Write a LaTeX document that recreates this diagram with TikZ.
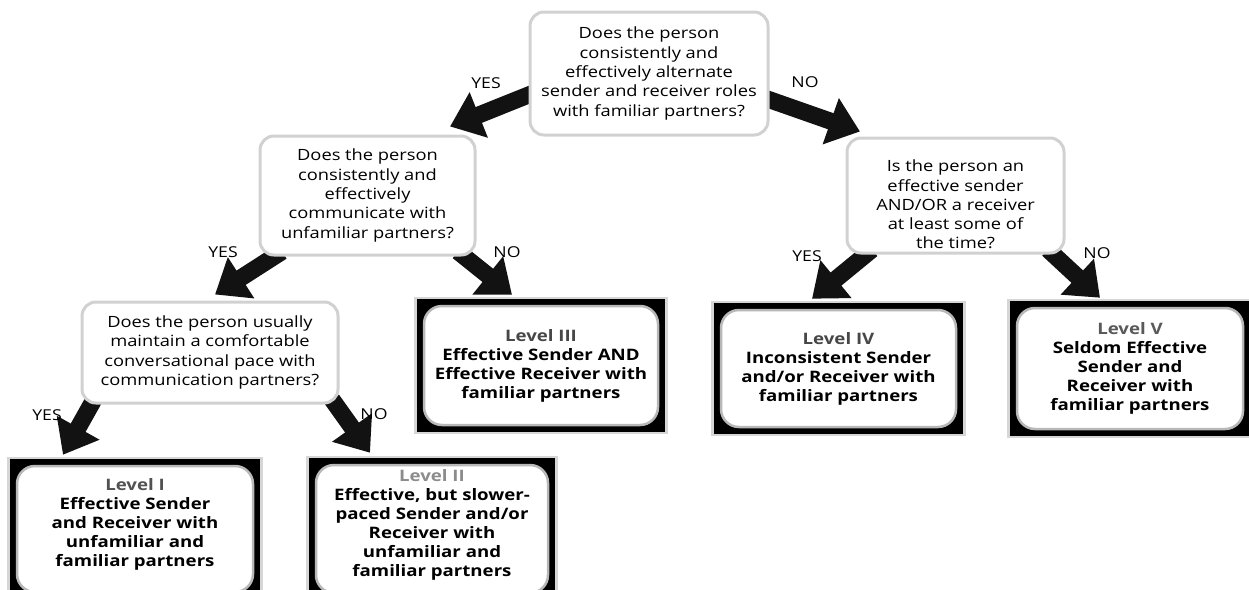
\documentclass[tikz,border=0pt]{standalone}
\usepackage{fontspec}
\setmainfont{Open Sans}[FakeStretch=1.18]
\usetikzlibrary{arrows.meta,backgrounds}
\definecolor{qborder}{gray}{0.82}
\definecolor{fgray}{gray}{0.84}
\definecolor{iedge}{gray}{0.72}
\newcommand{\lvframe}[1]{%
  \fill[fgray] ([shift={(-9,-8)}]#1.north west) rectangle ([shift={(9,8)}]#1.south east);
  \fill[black] ([shift={(-5.5,-5.5)}]#1.north west) rectangle ([shift={(5.5,5.5)}]#1.south east);
}
\begin{document}
\begin{tikzpicture}[x=1pt,y=-1pt,
  qbox/.style={draw=qborder, line width=3pt, fill=white, rounded corners=14pt, align=center,
    font=\fontsize{15.5}{19.3}\selectfont, inner sep=0pt},
  lvbox/.style={draw=iedge, line width=2.5pt, fill=white, rounded corners=18pt, align=center,
    font=\bfseries\fontsize{15.8}{19}\selectfont, inner sep=0pt},
  yn/.style={font=\fontsize{15}{16}\selectfont, inner sep=0pt},
  bigarrow/.style={line width=17pt, draw=black!93, -{Triangle[length=31pt,width=47pt]}},
]
\clip (0,0) rectangle (1249,589);

% question boxes
\node[qbox, minimum width=238pt, minimum height=123pt] (q1) at (649,73.5)
  {Does the person\\consistently and\\effectively alternate\\sender and receiver roles\\with familiar partners?};
\node[qbox, minimum width=215pt, minimum height=119pt] (q2) at (367.5,195.5)
  {Does the person\\consistently and\\effectively\\communicate with\\unfamiliar partners?};
\node[qbox, minimum width=256pt, minimum height=101pt] (q3) at (210,352.5)
  {Does the person usually\\maintain a comfortable\\conversational pace with\\communication partners?};
\node[qbox, minimum width=217pt, minimum height=115pt] (q4) at (955.5,195.5)
  {\rule{0pt}{30pt}Is the person an\\effective sender\\AND/OR a receiver\\at least some of\\the time?};

% level boxes
\node[lvbox, minimum width=236pt, minimum height=126pt] (l1) at (135,529)
  {\textcolor{black!68}{Level I}\\Effective Sender\\and Receiver with\\unfamiliar and\\familiar partners\rule[-14pt]{0pt}{0pt}};
\node[lvbox, minimum width=232pt, minimum height=128pt] (l2) at (432,529)
  {\textcolor{black!45}{Level II}\\Effective, but slower-\\paced Sender and/or\\Receiver with\\unfamiliar and\\familiar partners\rule[-12pt]{0pt}{0pt}};
\node[lvbox, minimum width=234pt, minimum height=119pt] (l3) at (541,365.5)
  {\textcolor{black!72}{Level III}\\Effective Sender AND\\Effective Receiver with\\familiar partners};
\node[lvbox, minimum width=235pt, minimum height=117pt] (l4) at (838.5,368.5)
  {\textcolor{black!72}{Level IV}\\Inconsistent Sender\\and/or Receiver with\\familiar partners};
\node[lvbox, minimum width=226pt, minimum height=121pt] (l5) at (1130,368.5)
  {\textcolor{black!65}{Level V}\\Seldom Effective\\Sender and\\Receiver with\\familiar partners};

% labels
\node[yn] (y1) at (486,83) {YES};
\node[yn] (n1) at (805,82) {NO};
\node[yn] (y2) at (223,252) {YES};
\node[yn] (n2) at (507,252) {NO};
\node[yn] (y3) at (47,415) {YES};
\node[yn] (n3) at (374,414) {NO};
\node[yn] (y4) at (807,256) {YES};
\node[yn] (n4) at (1097,253) {NO};

\begin{scope}[on background layer]
  \lvframe{l1}
  \lvframe{l2}
  \lvframe{l3}
  \lvframe{l4}
  \lvframe{l5}
  \draw[bigarrow] ([shift={(5,19.5)}]q1.west) -- ([shift={(82.5,-8)}]q2.north);
  \draw[bigarrow] ([shift={(-5,24.5)}]q1.east) -- ([shift={(-95.5,-5)}]q4.north);
  \draw[bigarrow] ([shift={(-85.5,-5)}]q2.south) -- ([shift={(5,-6)}]q3.north);
  \draw[bigarrow] ([shift={(90.5,-5)}]q2.south) -- ([shift={(-29,-10)}]l3.north);
  \draw[bigarrow] ([shift={(-116,-5)}]q3.south) -- ([shift={(-72,-10)}]l1.north);
  \draw[bigarrow] ([shift={(122,-5)}]q3.south) -- ([shift={(-62,-11)}]l2.north);
  \draw[bigarrow] ([shift={(-83.5,-5)}]q4.south) -- ([shift={(-26.5,-10)}]l4.north);
  \draw[bigarrow] ([shift={(92.5,-5)}]q4.south) -- ([shift={(-30,-9)}]l5.north);
\end{scope}
\end{tikzpicture}
\end{document}
